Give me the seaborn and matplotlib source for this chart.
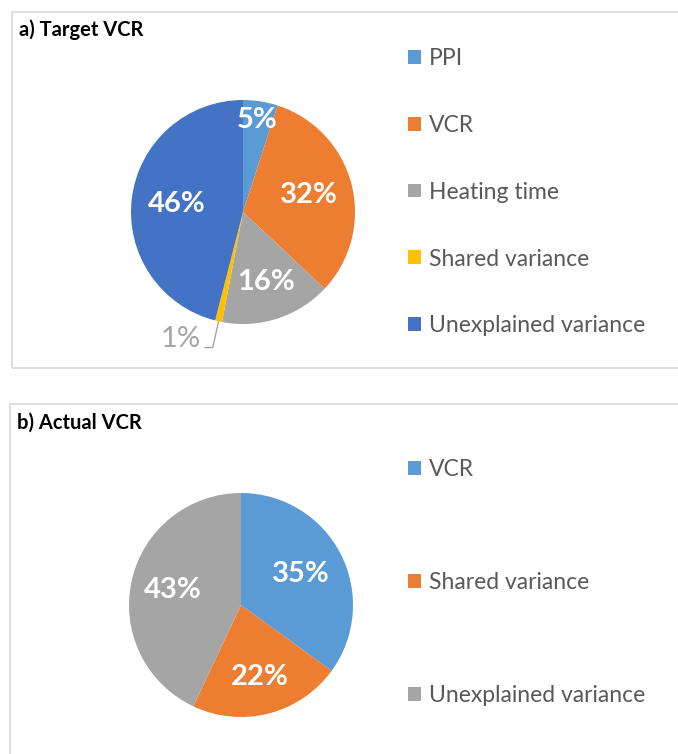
import matplotlib
matplotlib.use("Agg")
import numpy as np
import matplotlib.pyplot as plt
import seaborn as sns
from matplotlib.patches import Rectangle

# Data for the two pies
a_labels = ["PPI", "VCR", "Heating time", "Shared variance", "Unexplained variance"]
a_values = [5, 32, 16, 1, 46]
b_labels = ["VCR", "Shared variance", "Unexplained variance"]
b_values = [35, 22, 43]

sns.set_theme(style="white")
plt.rcParams['font.family'] = ['Lato', 'DejaVu Sans']

office = ["#5B9BD5", "#ED7D31", "#A5A5A5", "#FFC000", "#4472C4"]
a_colors = sns.color_palette(office)
b_colors = sns.color_palette(office[:3])
legend_grey = "#595959"

W, H = 678, 754
fig = plt.figure(figsize=(W / 100, H / 100), dpi=100)


def fx(px):
    return px / W


def fy(py):
    return 1 - py / H


# Panel borders
fig.patches.append(Rectangle((fx(12), fy(368)), fx(W), (368 - 12) / H, transform=fig.transFigure,
                             fill=False, edgecolor="#D9D9D9", linewidth=1.2))
fig.patches.append(Rectangle((fx(10), fy(H + 10)), fx(W), (H + 10 - 404) / H, transform=fig.transFigure,
                             fill=False, edgecolor="#D9D9D9", linewidth=1.2))

fig.text(fx(19), fy(30), "a) Target VCR", fontsize=14.5, fontweight="bold", color="black", va="center")
fig.text(fx(17), fy(423), "b) Actual VCR", fontsize=14.5, fontweight="bold", color="black", va="center")


def draw_pie(cx, cy, r, values, colors, dists):
    ax = fig.add_axes([fx(cx - r), fy(cy + r), 2 * r / W, 2 * r / H])
    wedges, _ = ax.pie(values, colors=colors, startangle=90, counterclock=False,
                       wedgeprops=dict(linewidth=0))
    ax.set_xlim(-1, 1)
    ax.set_ylim(-1, 1)
    ax.set_aspect("equal")
    ax.axis("off")
    for w, v, d in zip(wedges, values, dists):
        if d is None:
            continue
        ang = np.deg2rad((w.theta1 + w.theta2) / 2)
        ax.text(d * np.cos(ang), d * np.sin(ang), f"{v}%", ha="center", va="center",
                fontsize=21, fontweight="bold", color="white")
    return ax, wedges


# a) Target VCR
ax_a, wedges_a = draw_pie(243, 212, 112, a_values, a_colors, [0.83, 0.61, 0.66, None, 0.6])

# small slice label outside with leader line
w = wedges_a[3]
ang = np.deg2rad((w.theta1 + w.theta2) / 2)
ex, ey = np.cos(ang), np.sin(ang)
ax_a.plot([ex, -0.27, -0.34], [ey, -1.21, -1.21], color="#A5A5A5", linewidth=1, clip_on=False)
ax_a.text(-0.38, -1.13, f"{a_values[3]}%", ha="right", va="center", fontsize=21,
          color="#A5A5A5")

leg_a = ax_a.legend(wedges_a, a_labels, loc="upper left", bbox_to_anchor=(fx(408), fy(48)),
                    bbox_transform=fig.transFigure, frameon=False, fontsize=16.5,
                    labelcolor=legend_grey, handlelength=0.55, handleheight=0.55,
                    handletextpad=0.35, labelspacing=2.0, borderpad=0, borderaxespad=0)

# b) Actual VCR
ax_b, wedges_b = draw_pie(241, 605, 112, b_values, b_colors, [0.6, 0.66, 0.62])

leg_b = ax_b.legend(wedges_b, b_labels, loc="upper left", bbox_to_anchor=(fx(408), fy(459)),
                    bbox_transform=fig.transFigure, frameon=False, fontsize=16.5,
                    labelcolor=legend_grey, handlelength=0.55, handleheight=0.55,
                    handletextpad=0.35, labelspacing=4.02, borderpad=0, borderaxespad=0)

fig.savefig("out.png", dpi=100)
